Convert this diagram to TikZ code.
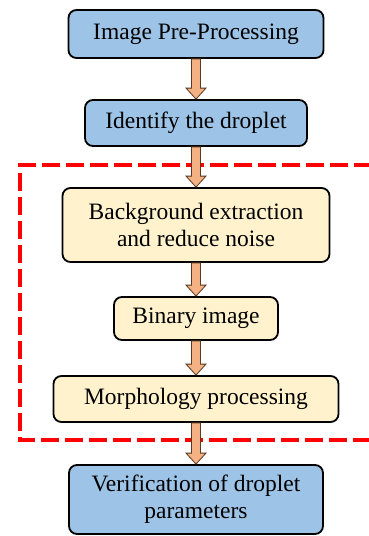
\documentclass[tikz,border=0pt]{standalone}
\usepackage{fontspec}
\setmainfont{Liberation Serif}
\usetikzlibrary{calc}
\definecolor{boxblue}{HTML}{9DC3E6}
\definecolor{boxcream}{HTML}{FFF2CC}
\definecolor{arrowfill}{HTML}{F4B183}
\definecolor{arrowline}{HTML}{5A3A22}
\tikzset{
  stepbox/.style={draw=black, line width=1.8pt, rounded corners=8pt, align=center,
    font=\fontsize{23.5}{27}\selectfont, inner sep=2pt},
  bluebox/.style={stepbox, fill=boxblue},
  creambox/.style={stepbox, fill=boxcream},
  barrow/.style={fill=arrowfill, draw=arrowline, line width=0.8pt, line join=miter},
  redframe/.style={draw=red, line width=4pt, dash pattern=on 18pt off 6pt}
}
\newcommand{\blockarrow}[2]{%
  \draw[barrow] ($(#1.south)+(-4.5pt,0)$) -- ($(#2.north)+(-4.5pt,11pt)$)
    -- ($(#2.north)+(-10pt,11pt)$) -- (#2.north) -- ($(#2.north)+(10pt,11pt)$)
    -- ($(#2.north)+(4.5pt,11pt)$) -- ($(#1.south)+(4.5pt,0)$) -- cycle;}
\begin{document}
\begin{tikzpicture}[x=1pt,y=1pt]
\useasboundingbox (0,0) rectangle (368,-536);
\fill[white] (0,0) rectangle (368,-536);
\coordinate (ftr) at (372,-165);
\coordinate (ftl) at (20,-165);
\coordinate (fbl) at (20,-440);
\coordinate (fbr) at (372,-440);
\draw[redframe] (ftr) -- (ftl) -- (fbl) -- (fbr);
\node[bluebox, minimum width=255pt, minimum height=48pt] (n1) at (196,-34) {Image Pre-Processing};
\node[bluebox, minimum width=222pt, minimum height=46pt] (n2) at (196,-123) {Identify the droplet};
\node[creambox, minimum width=267pt, minimum height=74pt] (n3) at (196,-225) {Background extraction\\and reduce noise};
\node[creambox, minimum width=164pt, minimum height=43pt] (n4) at (196,-318.5) {Binary image};
\node[creambox, minimum width=285pt, minimum height=46pt] (n5) at (196,-399) {Morphology processing};
\node[bluebox, minimum width=254pt, minimum height=69pt] (n6) at (196,-499.5) {Verification of droplet\\parameters};
\blockarrow{n1}{n2}
\blockarrow{n2}{n3}
\blockarrow{n3}{n4}
\blockarrow{n4}{n5}
\blockarrow{n5}{n6}
\end{tikzpicture}
\end{document}
